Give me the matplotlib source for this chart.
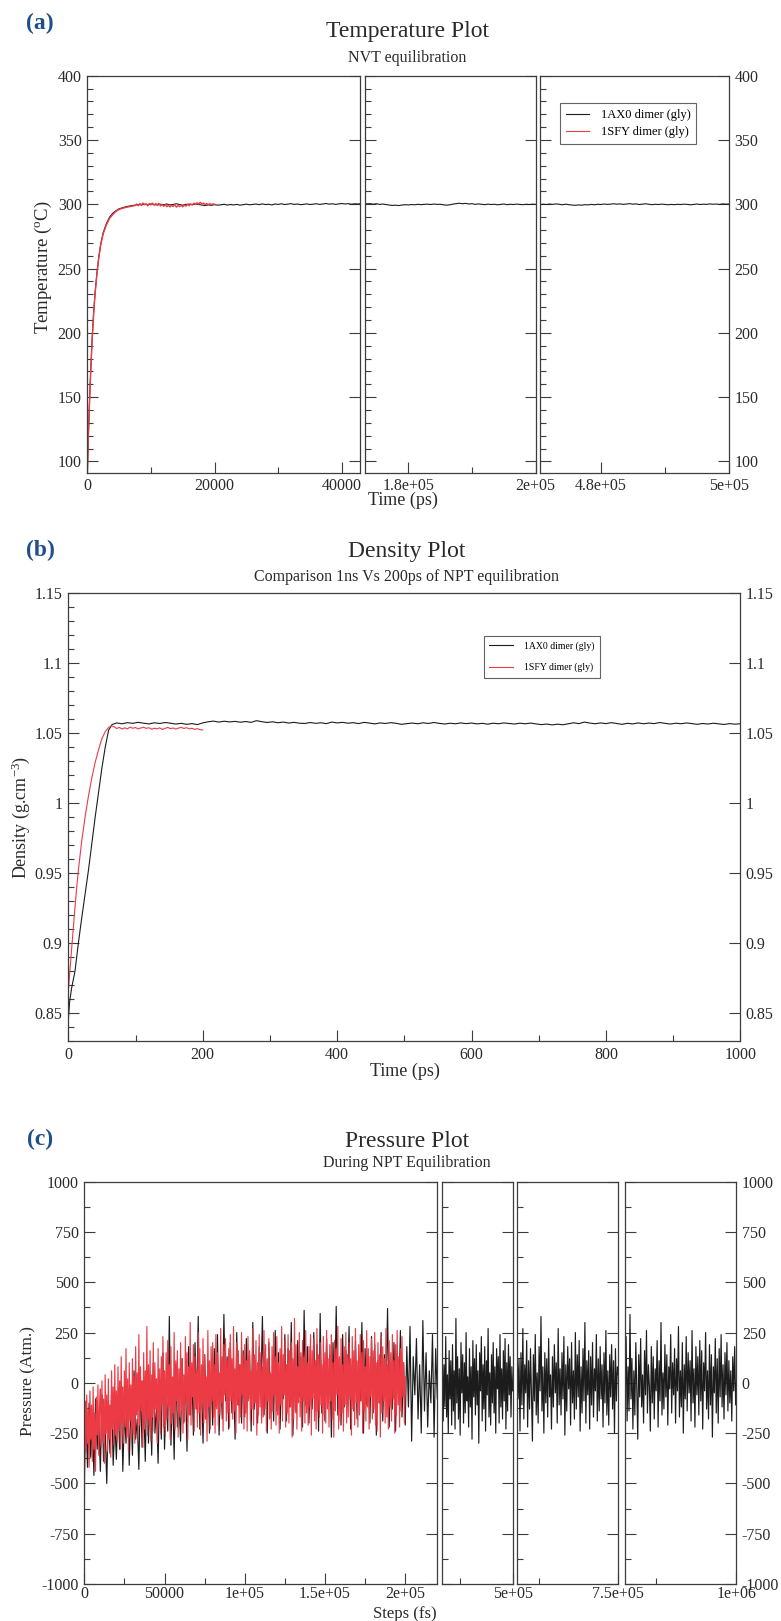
import numpy as np
import matplotlib
matplotlib.use('Agg')
import matplotlib.pyplot as plt
from matplotlib.lines import Line2D
from matplotlib.ticker import MultipleLocator, FuncFormatter

plt.rcParams['font.family'] = ['Liberation Serif', 'DejaVu Serif']
plt.rcParams['mathtext.fontset'] = 'custom'
plt.rcParams['mathtext.rm'] = 'Liberation Serif'
plt.rcParams['mathtext.it'] = 'Liberation Serif:italic'

# ------------------------------------------------------------------ data
series_names = ['1AX0 dimer (gly)', '1SFY dimer (gly)']

# (a) Temperature, NVT
temp_rise_t = [0, 100, 200, 300, 400, 500, 600, 800, 1000, 1200, 1500, 1800,
               2100, 2500, 3000, 3500, 4000, 4500, 5000, 6000, 7000]
temp_black_rise = [90, 108, 125, 140, 154, 167, 178, 199, 216, 230, 246, 259,
                   269, 278, 285, 290, 293, 295, 296.5, 298, 299]
temp_red_rise = [88, 107, 124, 139, 153, 166, 177, 198, 215, 229, 245, 258,
                 268, 277, 284, 289, 292, 294.5, 296, 297.5, 298.5]
temp_black_p1_start, temp_black_p1_step = 7500, 500
temp_black_p1 = [299.3, 299.8, 299.5, 300.1, 299.6, 300.3, 299.9, 299.4, 300.0, 299.7,
                 300.2, 299.5, 299.9, 300.4, 299.8, 299.3, 299.9, 300.1, 299.6, 300.2,
                 299.8, 299.4, 299.0, 299.5, 299.2, 299.7, 299.3, 299.6, 300.0, 299.4,
                 299.8, 299.5, 299.9, 299.3, 299.7, 300.1, 299.6, 299.9, 300.2, 299.7,
                 300.3, 299.8, 300.0, 299.5, 300.2, 299.9, 300.4, 299.8, 300.1, 300.5,
                 299.9, 300.2, 299.7, 300.0, 300.3, 299.8, 300.1, 300.4, 299.9, 300.2,
                 300.6, 300.1, 300.4, 299.9, 300.3, 300.6, 300.2, 300.5, 300.0, 300.4,
                 300.2, 300.5]
temp_black_p2_start, temp_black_p2_step = 173000, 500
temp_black_p2 = [300.6, 300.3, 300.5, 300.1, 300.4, 299.9, 300.2, 299.8, 299.4, 299.1,
                 299.3, 299.0, 299.4, 299.7, 299.5, 299.8, 299.6, 300.0, 299.7, 299.9,
                 300.1, 299.8, 300.2, 299.9, 300.0, 299.6, 299.3, 299.6, 300.1, 300.5,
                 300.8, 300.4, 300.7, 300.2, 300.5, 299.9, 300.3, 300.0, 299.7, 300.1,
                 299.8, 300.0, 299.6, 299.9, 300.2, 299.7, 300.0, 299.8, 300.1, 299.9,
                 299.7, 300.0, 299.8, 300.1, 299.9]
temp_black_p3_start, temp_black_p3_step = 470000, 500
temp_black_p3 = [300.0, 299.7, 300.1, 299.8, 300.2, 299.9, 300.3, 300.0, 299.6, 300.1,
                 299.7, 299.4, 299.2, 299.5, 299.3, 299.7, 299.5, 299.9, 299.6, 300.0,
                 299.8, 300.2, 299.9, 300.1, 300.4, 300.1, 300.3, 299.9, 300.2, 300.5,
                 300.1, 300.3, 299.8, 300.1, 300.4, 300.0, 299.7, 300.0, 299.8, 300.1,
                 299.9, 299.6, 299.9, 299.7, 300.0, 299.8, 300.1, 299.9, 299.6, 299.9,
                 300.2, 299.8, 300.1, 299.9, 300.3, 300.0, 300.2, 299.9, 300.3, 300.1,
                 300.2]
temp_red_p_start, temp_red_p_step = 7500, 250
temp_red_p = [299.0, 300.2, 298.9, 300.5, 299.4, 301.0, 299.6, 300.3, 298.8, 300.6,
              299.5, 300.9, 299.2, 300.4, 299.8, 300.7, 298.7, 299.9, 298.4, 299.6,
              298.1, 299.3, 297.9, 299.1, 298.3, 299.5, 297.8, 299.0, 298.2, 299.4,
              298.0, 299.3, 298.6, 299.8, 298.9, 300.3, 299.5, 300.9, 299.8, 301.2,
              300.1, 301.5, 300.4, 300.9, 299.7, 300.6, 299.8, 300.4, 299.9, 300.3,
              300.0]

# (b) Density, NPT
dens_black_rise_t = [0, 2, 5, 10, 15, 20, 30, 40, 50, 55, 60, 65]
dens_black_rise = [0.845, 0.858, 0.868, 0.88, 0.9, 0.918, 0.952, 0.99, 1.025, 1.04,
                   1.052, 1.056]
dens_black_p_start, dens_black_p_step = 72, 8
dens_black_p = [1.0572, 1.0566, 1.0574, 1.0569, 1.0576, 1.0570, 1.0565, 1.0573, 1.0568, 1.0575, 1.0570,
                1.0564, 1.0569, 1.0562, 1.0567, 1.0560, 1.0572, 1.0580, 1.0585, 1.0578, 1.0584, 1.0579,
                1.0583, 1.0577, 1.0582, 1.0576, 1.0588, 1.0581, 1.0575, 1.0580, 1.0573, 1.0578, 1.0571,
                1.0576, 1.0570, 1.0568, 1.0575, 1.0569, 1.0573, 1.0567, 1.0578, 1.0572, 1.0576, 1.0570,
                1.0574, 1.0567, 1.0576, 1.0571, 1.0565, 1.0572, 1.0568, 1.0574, 1.0569, 1.0562, 1.0567,
                1.0571, 1.0566, 1.0573, 1.0568, 1.0575, 1.0569, 1.0564, 1.0570, 1.0566, 1.0572, 1.0567,
                1.0571, 1.0565, 1.0569, 1.0563, 1.0570, 1.0566, 1.0572, 1.0568, 1.0564, 1.0570, 1.0566,
                1.0571, 1.0565, 1.0560, 1.0564, 1.0558, 1.0563, 1.0559, 1.0566, 1.0573, 1.0567, 1.0578,
                1.0571, 1.0566, 1.0572, 1.0567, 1.0574, 1.0568, 1.0562, 1.0569, 1.0565, 1.0572, 1.0566,
                1.0571, 1.0567, 1.0575, 1.0569, 1.0564, 1.0570, 1.0566, 1.0572, 1.0567, 1.0562, 1.0568,
                1.0564, 1.0570, 1.0565, 1.0561, 1.0567, 1.0563, 1.0566]
dens_red_rise_t = [0, 2, 4, 6, 9, 12, 15, 20, 25, 30, 35, 40, 45, 50, 55, 60, 64]
dens_red_rise = [0.865, 0.878, 0.89, 0.902, 0.92, 0.937, 0.952, 0.973, 0.99, 1.005,
                 1.018, 1.029, 1.038, 1.046, 1.051, 1.054, 1.055]
dens_red_p_start, dens_red_p_step = 68, 4
dens_red_p = [1.0545, 1.0532, 1.0540, 1.0528, 1.0537, 1.0530, 1.0542, 1.0534, 1.0539, 1.0529,
              1.0536, 1.0541, 1.0533, 1.0538, 1.0527, 1.0534, 1.0530, 1.0537, 1.0525, 1.0533,
              1.0540, 1.0531, 1.0536, 1.0528, 1.0535, 1.0541, 1.0532, 1.0538, 1.0529, 1.0534,
              1.0526, 1.0531, 1.0524, 1.0522]

# (c) Pressure, NPT
pres_red_start, pres_red_step = 0, 500
pres_red = [
    -700, -90, -340, -60, -300, -130, -420, -40, -280, -110, -390, -20, -330, -150, -440, -70, -260, -10, -360, -120,
    -30, -320, 10, -290, -80, -400, 40, -250, -60, -340, 20, -280, -110, -370, 60, -230, -20, -310, 90, -260,
    -40, -290, 80, -240, 10, -330, 130, -200, -20, -300, 60, -220, 170, -270, 20, -340, 100, -190, -10, -280,
    120, -250, 30, -300, 180, -160, 50, -270, 240, -210, 80, -140, 10, -320, 150, -230, 60, -180, 280, -260,
    90, -210, 160, -290, 40, -170, 200, -240, 100, -130, 20, -300, 170, -190, 70, -250, 130, -110, 230, -220,
    60, -260, 150, -180, 210, -120, 90, -280, 180, -200, 30, -150, 250, -230, 110, -90, 160, -270, 70, -170,
    200, -140, 120, -250, 40, -190, 230, -100, 150, -280, 80, -160, 300, -210, 100, -70, 190, -240, 130, -130,
    60, -220, 250, -150, 170, -260, 90, -110, 220, -200, 140, -180, 30, -290, 260, -120, 110, -230, 180, -90,
    200, -170, 90, -250, 240, -130, 150, -210, 50, -160, 270, -100, 130, -240, 190, -60, 220, -190, 110, -150,
    170, -220, 240, -90, 120, -180, 280, -140, 70, -250, 200, -110, 160, -200, 90, -170, 250, -60, 140, -230,
    190, -150, 110, -240, 230, -80, 160, -190, 60, -130, 270, -210, 140, -100, 210, -260, 100, -160, 240, -120,
    150, -200, 80, -170, 260, -130, 190, -240, 120, -90, 220, -180, 50, -230, 180, -140, 250, -70, 130, -210,
    230, -160, 100, -250, 170, -110, 280, -190, 140, -60, 210, -220, 90, -150, 240, -200, 160, -120, 200, -270,
    120, -180, 320, -140, 190, -230, 80, -100, 250, -170, 150, -240, 210, -90, 130, -200, 260, -150, 100, -210,
    180, -120, 240, -260, 160, -80, 220, -190, 110, -230, 270, -140, 140, -170, 200, -110, 90, -250, 230, -160,
    150, -200, 260, -130, 120, -220, 190, -90, 240, -180, 100, -270, 210, -140, 170, -60, 280, -230, 130, -190,
    220, -150, 90, -240, 180, -110, 250, -200, 140, -170, 200, -80, 120, -260, 230, -130, 160, -210, 270, -100,
    110, -220, 190, -160, 240, -90, 150, -250, 210, -140, 80, -190, 260, -120, 170, -230, 130, -70, 220, -180,
    160, -130, 250, -210, 100, -240, 200, -100, 140, -270, 230, -150, 180, -90, 120, -200, 270, -170, 90, -230,
    210, -120, 150, -190, 240, -80, 110, -250, 190, -160, 260, -110, 130, -220, 170, -140, 230, -70, 100, -200,
    30]
pres_black1_start, pres_black1_step = 0, 1000
pres_black1 = [
    -480, -150, -420, -100, -370, -200, -460, -80, -330, -170, -440, -60, -390, -230, -500, -120, -350, -40, -410, -190,
    -380, -70, -330, 10, -440, -150, -300, -20, -410, -110, -360, 60, -280, -180, -430, 0, -320, -90, -390, 40,
    -300, -40, -360, 100, -250, -120, -400, 20, -280, 150, -330, -60, -240, 330, -310, -10, -380, 90, -220, -100,
    -290, 120, -200, 30, -340, 180, -160, 70, -260, 200, -130, 330, -230, 10, -300, 140, -180, 90, -250, 40,
    -210, 170, -120, 240, -260, 60, -180, 340, -90, 130, -230, 200, -150, 20, -280, 250, -110, 90, -200, 160,
    -170, 220, -90, 140, -240, 300, -130, 60, -200, 180, -60, 330, -160, 110, -250, 200, -100, 40, -190, 260,
    -140, 150, -230, 90, -80, 240, -190, 170, -120, 300, -260, 60, -150, 210, -70, 130, -220, 360, -110, 180,
    -200, 100, -130, 250, -60, 190, -240, 345, -150, 80, -190, 220, -100, 140, -270, 200, -80, 380, -160, 120,
    -210, 240, -120, 160, -70, 280, -230, 90, -140, 210, -180, 130, -90, 300, -250, 170, -110, 60, -200, 230,
    -150, 190, -260, 110, -100, 250, -190, 140, -60, 370, -220, 80, -130, 200, -240, 150, -80, 260, -170, 100,
    -210, 180, -120, 280, -290, 130, -60, 220, -180, 90, -250, 310, -140, 150, -220, 60, -100, 240, -270, 170,
    -80]
pres_black2_start, pres_black2_step = 332000, 2000
pres_black2 = [
    -60, 150, -190, 90, -120, 230, -170, 40, -250, 160, -80, 110, -210, 190, -140, 60, -230, 320, -100, 130,
    -180, 70, -260, 200, -50, 140, -200, 100, -150, 250, -90, 30, -220, 170, -120, 80, -280, 210, -70, 120,
    -160, 190, -110, 60, -300, 150, -40, 230, -190, 90, -130, 180, -240, 110, -60, 270, -170, 50, -210, 140,
    -100, 200, -150, 80, -250, 170, -30, 130, -200, 240, -120, 70, -180, 160, -90, 220, -230, 100, -140, 190,
    -60, 130, -170, 80, -40]
pres_black3_start, pres_black3_step = 588000, 1500
pres_black3 = [
    60, -150, 190, -80, 120, -240, 150, -110, 270, -180, 90, -50, 210, -220, 110, -130, 170, -60, -290, 140,
    -90, 240, -160, 50, -200, 180, -40, 330, -140, 80, -250, 150, -100, 120, -170, 220, -70, 40, -230, 130,
    -120, 190, -50, 100, -200, 270, -110, 70, -160, 150, -80, 230, -260, 90, -140, 180, -30, 120, -210, 200,
    -100, 60, -180, 250, -130, 140, -70, 210, -240, 80, -150, 170, -90, 300, -200, 110, -60, 160, -230, 130,
    -110, 200, -170, 70, -40, 240, -190, 120, -140, 180, -80, 90, -220, 150, -100, 260, -160, 60, -210, 140,
    -70, 190, -130, 110, -250, 170, -90, 80, 40]
pres_black4_start, pres_black4_step = 825000, 1500
pres_black4 = [
    -100, 170, -50, 230, -190, 80, -140, 340, -80, 120, -230, 60, -160, 200, -30, -280, 140, -70, 220, -120,
    40, -200, 160, -60, 260, -150, 90, -20, -240, 180, -100, 130, -180, 70, -40, 210, -220, 110, -90, 300,
    -160, 50, -130, 190, -70, 140, -210, 80, -30, 240, -150, 100, -60, 170, -200, 120, -40, 280, -170, 60,
    -120, 200, -250, 90, -80, 230, -140, 150, -50, 110, -190, 260, -100, 70, -220, 180, -60, 130, -160, 210,
    -90, 160, -230, 100, -40, 250, -130, 60, -180, 190, -110, 140, -270, 80, -50, 220, -150, 120, -200, 170,
    -70, 240, -120, 90, -180, 150, -60, 200, -140, 110, -100, 60, -190, 130, -40, 180, -110, 20]

# ------------------------------------------------------------------ helpers
def series(start, step, vals):
    return start + step * np.arange(len(vals)), np.asarray(vals, float)

W, H = 781, 1621
fig = plt.figure(figsize=(W / 100, H / 100), dpi=100)

BLACK = '#1c1c1c'
RED = '#ec3b45'
FRAME = '#3c3c3c'
TXT = '#2a2a2a'
LETTER = '#1f4e8c'


def rect(l, r, t, b):
    return [l / W, 1 - b / H, (r - l) / W, (b - t) / H]


def ftext(x, y, s, **kw):
    fig.text(x / W, 1 - y / H, s, **kw)


def style(ax, ylim, ymaj, ymin, first, last, xmaj, xlabels, xmin, xlim, xpad=3.5):
    ax.set_xlim(*xlim)
    ax.set_ylim(*ylim)
    ax.yaxis.set_major_locator(MultipleLocator(ymaj))
    ax.yaxis.set_minor_locator(MultipleLocator(ymin))
    ax.yaxis.set_major_formatter(FuncFormatter(lambda v, p: '%g' % round(v, 6)))
    ax.set_xticks(xmaj, xlabels)
    ax.set_xticks(xmin, minor=True)
    for s in ax.spines.values():
        s.set_color(FRAME)
        s.set_linewidth(0.9)
        s.set_zorder(5)
    ax.tick_params(which='both', direction='in', color=FRAME, width=0.8,
                   labelcolor=TXT, labelsize=11.5)
    ax.tick_params(which='major', length=8)
    ax.tick_params(which='minor', length=4)
    ax.tick_params(axis='y', left=True, right=True, labelleft=first,
                   labelright=last, pad=4)
    ax.tick_params(axis='x', top=False, bottom=True, pad=xpad)


# ------------------------------------------------------------------ (a) Temperature
a_top, a_bot = 75.7, 473
a_segs = [(87.3, 360), (365, 535.7), (540, 729)]
a_xlims = [(0, 42850), (173200, 200000), (470500, 500000)]
a_xmaj = [[0, 20000, 40000], [180000, 200000], [480000, 500000]]
a_xlab = [['0', '20000', '40000'], ['1.8e+05', '2e+05'], ['4.8e+05', '5e+05']]
a_xmin = [[10000, 30000], [190000], [490000]]

tb1 = series(temp_black_p1_start, temp_black_p1_step, temp_black_p1)
tb2 = series(temp_black_p2_start, temp_black_p2_step, temp_black_p2)
tb3 = series(temp_black_p3_start, temp_black_p3_step, temp_black_p3)
tr1 = series(temp_red_p_start, temp_red_p_step, temp_red_p)
tbx = np.concatenate([temp_rise_t, tb1[0], tb2[0], tb3[0]])
tby = np.concatenate([temp_black_rise, tb1[1], tb2[1], tb3[1]])
trx = np.concatenate([temp_rise_t, tr1[0]])
try_ = np.concatenate([temp_red_rise, tr1[1]])

a_axes = []
for i, (l, r) in enumerate(a_segs):
    ax = fig.add_axes(rect(l, r, a_top, a_bot))
    ax.plot(tbx, tby, color=BLACK, lw=0.8)
    ax.plot(trx, try_, color=RED, lw=1.0)
    style(ax, (91, 400), 50, 10, i == 0, i == len(a_segs) - 1,
          a_xmaj[i], a_xlab[i], a_xmin[i], a_xlims[i])
    a_axes.append(ax)

handles = [Line2D([], [], color=BLACK, lw=0.8), Line2D([], [], color=RED, lw=0.8)]
leg = a_axes[2].legend(handles, series_names, loc='upper left',
                       bbox_to_anchor=(560 / W, 1 - 103.3 / H),
                       bbox_transform=fig.transFigure, fontsize=9, frameon=True,
                       fancybox=False, borderpad=0.45, handlelength=1.9,
                       handletextpad=0.9, labelspacing=0.42, borderaxespad=0)
leg.get_frame().set_edgecolor(FRAME)
leg.get_frame().set_linewidth(0.8)

ftext(40, 23, '(a)', fontsize=17, fontweight='bold', color=LETTER, ha='center', va='center')
ftext(407, 37.5, 'Temperature Plot', fontsize=17, color=TXT, ha='center', va='baseline')
ftext(407, 61.7, 'NVT equilibration', fontsize=11.5, color=TXT, ha='center', va='baseline')
ftext(403, 500, 'Time (ps)', fontsize=13, color=TXT, ha='center', va='center')
ftext(43, 267, 'Temperature ($^{\\mathrm{o}}$C)', fontsize=13.5, color=TXT,
      ha='center', va='center', rotation=90)

# ------------------------------------------------------------------ (b) Density
bx = fig.add_axes(rect(68.3, 740.3, 593, 1041))
db = series(dens_black_p_start, dens_black_p_step, dens_black_p)
dr = series(dens_red_p_start, dens_red_p_step, dens_red_p)
bx.plot(np.concatenate([dens_black_rise_t, db[0]]),
        np.concatenate([dens_black_rise, db[1]]), color=BLACK, lw=0.8)
bx.plot(np.concatenate([dens_red_rise_t, dr[0]]),
        np.concatenate([dens_red_rise, dr[1]]), color=RED, lw=0.8)
style(bx, (0.83, 1.15), 0.05, 0.01, True, True,
      [0, 200, 400, 600, 800, 1000], ['0', '200', '400', '600', '800', '1000'],
      [100, 300, 500, 700, 900], (0, 1000), xpad=4.5)
leg = bx.legend(handles, series_names, loc='upper left',
                bbox_to_anchor=(484 / W, 1 - 635.7 / H),
                bbox_transform=fig.transFigure, fontsize=7, frameon=True,
                fancybox=False, borderpad=0.55, handlelength=2.4,
                handletextpad=1.15, labelspacing=1.25, borderaxespad=0)
leg.get_frame().set_edgecolor(FRAME)
leg.get_frame().set_linewidth(0.8)

ftext(40, 550, '(b)', fontsize=17, fontweight='bold', color=LETTER, ha='center', va='center')
ftext(407, 557.3, 'Density Plot', fontsize=17, color=TXT, ha='center', va='baseline')
ftext(407, 581, 'Comparison 1ns Vs 200ps of NPT equilibration', fontsize=11.5,
      color=TXT, ha='center', va='baseline')
ftext(405, 1071.7, 'Time (ps)', fontsize=13, color=TXT, ha='center', va='center')
ftext(21, 817, 'Density (g.cm$^{-3}$)', fontsize=13, color=TXT,
      ha='center', va='center', rotation=90)

# ------------------------------------------------------------------ (c) Pressure
c_top, c_bot = 1181.7, 1584
c_segs = [(84.3, 437.3), (441.5, 512.7), (516.5, 618.3), (624.5, 736.3)]
c_xlims = [(0, 220000), (332000, 500000), (590000, 750000), (827000, 1000000)]
c_xmaj = [[0, 50000, 100000, 150000, 200000], [500000], [750000], [1000000]]
c_xlab = [['0', '50000', '1e+05', '1.5e+05', '2e+05'], ['5e+05'], ['7.5e+05'], ['1e+06']]
c_xmin = [[25000, 75000, 125000, 175000], [375000], [625000], [875000]]

pr = series(pres_red_start, pres_red_step, pres_red)
pb_parts = [series(pres_black1_start, pres_black1_step, pres_black1),
            series(pres_black2_start, pres_black2_step, pres_black2),
            series(pres_black3_start, pres_black3_step, pres_black3),
            series(pres_black4_start, pres_black4_step, pres_black4)]

for i, (l, r) in enumerate(c_segs):
    ax = fig.add_axes(rect(l, r, c_top, c_bot))
    px, py = pb_parts[i]
    ax.plot(px, py, color=BLACK, lw=0.85)
    if i == 0:
        ax.plot(pr[0], pr[1], color=RED, lw=0.85)
    style(ax, (-1000, 1000), 250, 125, i == 0, i == len(c_segs) - 1,
          c_xmaj[i], c_xlab[i], c_xmin[i], c_xlims[i], xpad=1.5)

ftext(40, 1139.5, '(c)', fontsize=17, fontweight='bold', color=LETTER, ha='center', va='center')
ftext(407, 1147.3, 'Pressure Plot', fontsize=17, color=TXT, ha='center', va='baseline')
ftext(407, 1167.3, 'During NPT Equilibration', fontsize=11.5, color=TXT,
      ha='center', va='baseline')
ftext(405, 1614, 'Steps (fs)', fontsize=12, color=TXT, ha='center', va='center')
ftext(28, 1381, 'Pressure (Atm.)', fontsize=12.5, color=TXT,
      ha='center', va='center', rotation=90)

fig.savefig('out.png', dpi=100)
